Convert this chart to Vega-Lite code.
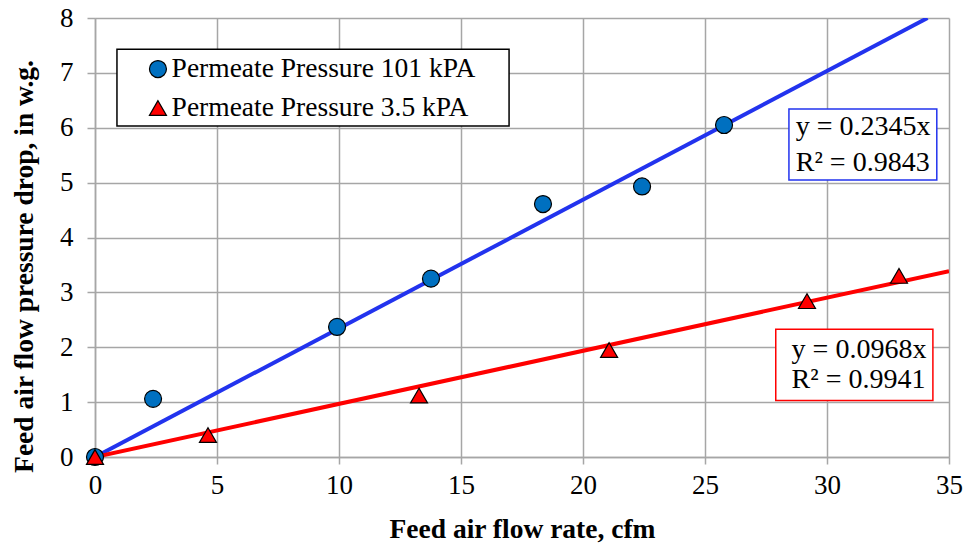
{
  "$schema": "https://vega.github.io/schema/vega-lite/v6.json",
  "width": 854,
  "height": 439,
  "autosize": {"type": "none"},
  "padding": {"left": 95, "top": 18, "right": 18, "bottom": 87},
  "background": "white",
  "config": {
    "view": {"stroke": null},
    "font": "Liberation Serif",
    "axis": {
      "labelFont": "Liberation Serif",
      "labelFontSize": 27,
      "labelColor": "black",
      "titleFont": "Liberation Serif",
      "titleFontSize": 27.5,
      "titleFontWeight": "bold",
      "titleColor": "black",
      "gridColor": "#A6A6A6",
      "gridWidth": 1.5,
      "gridOpacity": 1,
      "domainColor": "#A6A6A6",
      "domainWidth": 1.5,
      "tickColor": "#A6A6A6",
      "tickWidth": 1.5
    }
  },
  "datasets": {
    "points": [
      {"flow": 0, "drop": 0, "series": "Permeate Pressure 101 kPA"},
      {"flow": 2.38, "drop": 1.06, "series": "Permeate Pressure 101 kPA"},
      {"flow": 9.92, "drop": 2.37, "series": "Permeate Pressure 101 kPA"},
      {"flow": 13.77, "drop": 3.25, "series": "Permeate Pressure 101 kPA"},
      {"flow": 18.36, "drop": 4.61, "series": "Permeate Pressure 101 kPA"},
      {"flow": 22.42, "drop": 4.93, "series": "Permeate Pressure 101 kPA"},
      {"flow": 25.78, "drop": 6.05, "series": "Permeate Pressure 101 kPA"},
      {"flow": 0, "drop": 0, "series": "Permeate Pressure 3.5 kPA"},
      {"flow": 4.63, "drop": 0.40, "series": "Permeate Pressure 3.5 kPA"},
      {"flow": 13.28, "drop": 1.12, "series": "Permeate Pressure 3.5 kPA"},
      {"flow": 21.07, "drop": 1.95, "series": "Permeate Pressure 3.5 kPA"},
      {"flow": 29.18, "drop": 2.84, "series": "Permeate Pressure 3.5 kPA"},
      {"flow": 32.95, "drop": 3.30, "series": "Permeate Pressure 3.5 kPA"}
    ],
    "trend": [
      {"flow": 0, "drop": 0, "series": "Permeate Pressure 101 kPA"},
      {"flow": 34.12, "drop": 8.0, "series": "Permeate Pressure 101 kPA"},
      {"flow": 0, "drop": 0, "series": "Permeate Pressure 3.5 kPA"},
      {"flow": 35, "drop": 3.388, "series": "Permeate Pressure 3.5 kPA"}
    ],
    "one": [{"k": 1}]
  },
  "layer": [
    {
      "data": {"name": "points"},
      "mark": {"type": "point", "opacity": 0},
      "encoding": {
        "x": {
          "field": "flow", "type": "quantitative",
          "scale": {"domain": [0, 35], "nice": false, "zero": false},
          "axis": {
            "title": "Feed air flow rate, cfm",
            "values": [0, 5, 10, 15, 20, 25, 30, 35],
            "tickSize": 7,
            "labelPadding": 8,
            "labelFont": "Liberation Serif",
            "titleX": 427,
            "titleY": 80,
            "titleAlign": "center",
            "titleBaseline": "alphabetic",
            "labelFlush": false
          }
        },
        "y": {
          "field": "drop", "type": "quantitative",
          "scale": {"domain": [0, 8], "nice": false},
          "axis": {
            "title": "Feed air flow pressure drop, in w.g.",
            "values": [0, 0.5, 1, 1.5, 2, 2.5, 3, 3.5, 4, 4.5, 5, 5.5, 6, 6.5, 7, 7.5, 8],
            "labelExpr": "datum.value % 1 === 0 ? datum.label : ''",
            "tickSize": 8,
            "tickOpacity": {"condition": {"test": "datum.value % 1 !== 0", "value": 0}, "value": 1},
            "labelPadding": 14,
            "labelFont": "Liberation Serif",
            "titleX": -63,
            "titleY": 248,
            "titleAngle": -90,
            "titleAlign": "center",
            "titleBaseline": "alphabetic",
            "labelFlush": false
          }
        }
      }
    },
    {
      "data": {"name": "one"},
      "mark": {"type": "rect", "fill": "white", "stroke": "black", "strokeWidth": 1.5},
      "encoding": {
        "x": {"datum": 0.9, "type": "quantitative"},
        "x2": {"datum": 16.97},
        "y": {"datum": 7.43, "type": "quantitative"},
        "y2": {"datum": 6.03}
      }
    },
    {
      "data": {"name": "one"},
      "mark": {"type": "point", "shape": "circle", "filled": true, "fill": "#0070C0", "stroke": "black", "strokeWidth": 1.2, "size": 289, "opacity": 1},
      "encoding": {"x": {"datum": 2.58, "type": "quantitative"}, "y": {"datum": 7.07, "type": "quantitative"}}
    },
    {
      "data": {"name": "one"},
      "mark": {"type": "point", "shape": "triangle-up", "filled": true, "fill": "#FF0000", "stroke": "black", "strokeWidth": 1.2, "size": 289, "opacity": 1},
      "encoding": {"x": {"datum": 2.58, "type": "quantitative"}, "y": {"datum": 6.36, "type": "quantitative"}}
    },
    {
      "data": {"name": "one"},
      "mark": {"type": "text", "text": "Permeate Pressure 101 kPA", "align": "left", "baseline": "middle", "fontSize": 27.5, "font": "Liberation Serif", "color": "black"},
      "encoding": {"x": {"datum": 3.14, "type": "quantitative"}, "y": {"datum": 7.07, "type": "quantitative"}}
    },
    {
      "data": {"name": "one"},
      "mark": {"type": "text", "text": "Permeate Pressure 3.5 kPA", "align": "left", "baseline": "middle", "fontSize": 27.5, "font": "Liberation Serif", "color": "black"},
      "encoding": {"x": {"datum": 3.14, "type": "quantitative"}, "y": {"datum": 6.36, "type": "quantitative"}}
    },
    {
      "data": {"name": "one"},
      "mark": {"type": "rect", "fill": "white", "stroke": "#2233EE", "strokeWidth": 1.5},
      "encoding": {
        "x": {"datum": 28.44, "type": "quantitative"},
        "x2": {"datum": 34.5},
        "y": {"datum": 6.34, "type": "quantitative"},
        "y2": {"datum": 5.05}
      }
    },
    {
      "data": {"name": "one"},
      "mark": {"type": "rect", "fill": "white", "stroke": "#FF0000", "strokeWidth": 1.5},
      "encoding": {
        "x": {"datum": 27.9, "type": "quantitative"},
        "x2": {"datum": 34.34},
        "y": {"datum": 2.33, "type": "quantitative"},
        "y2": {"datum": 1.03}
      }
    },
    {
      "data": {"name": "one"},
      "mark": {"type": "text", "text": "y = 0.2345x", "align": "left", "baseline": "middle", "fontSize": 28, "font": "Liberation Serif", "color": "black"},
      "encoding": {"x": {"datum": 28.72, "type": "quantitative"}, "y": {"datum": 6.01, "type": "quantitative"}}
    },
    {
      "data": {"name": "one"},
      "mark": {"type": "text", "text": "R² = 0.9843", "align": "left", "baseline": "middle", "fontSize": 28, "font": "Liberation Serif", "color": "black"},
      "encoding": {"x": {"datum": 28.72, "type": "quantitative"}, "y": {"datum": 5.36, "type": "quantitative"}}
    },
    {
      "data": {"name": "one"},
      "mark": {"type": "text", "text": "y = 0.0968x", "align": "left", "baseline": "middle", "fontSize": 28, "font": "Liberation Serif", "color": "black"},
      "encoding": {"x": {"datum": 28.55, "type": "quantitative"}, "y": {"datum": 1.95, "type": "quantitative"}}
    },
    {
      "data": {"name": "one"},
      "mark": {"type": "text", "text": "R² = 0.9941", "align": "left", "baseline": "middle", "fontSize": 28, "font": "Liberation Serif", "color": "black"},
      "encoding": {"x": {"datum": 28.55, "type": "quantitative"}, "y": {"datum": 1.40, "type": "quantitative"}}
    },
    {
      "data": {"name": "trend"},
      "transform": [{"filter": "datum.series === 'Permeate Pressure 101 kPA'"}],
      "mark": {"type": "line", "strokeWidth": 4, "stroke": "#2233EE", "clip": true},
      "encoding": {
        "x": {"field": "flow", "type": "quantitative"},
        "y": {"field": "drop", "type": "quantitative"}
      }
    },
    {
      "data": {"name": "trend"},
      "transform": [{"filter": "datum.series === 'Permeate Pressure 3.5 kPA'"}],
      "mark": {"type": "line", "strokeWidth": 4, "stroke": "#FF0000", "clip": true},
      "encoding": {
        "x": {"field": "flow", "type": "quantitative"},
        "y": {"field": "drop", "type": "quantitative"}
      }
    },
    {
      "data": {"name": "points"},
      "mark": {"type": "point", "filled": true, "stroke": "black", "strokeWidth": 1.2, "size": 289, "opacity": 1},
      "encoding": {
        "x": {"field": "flow", "type": "quantitative"},
        "y": {"field": "drop", "type": "quantitative"},
        "fill": {
          "field": "series", "type": "nominal",
          "scale": {"domain": ["Permeate Pressure 101 kPA", "Permeate Pressure 3.5 kPA"], "range": ["#0070C0", "#FF0000"]},
          "legend": null
        },
        "shape": {
          "field": "series", "type": "nominal",
          "scale": {"domain": ["Permeate Pressure 101 kPA", "Permeate Pressure 3.5 kPA"], "range": ["circle", "triangle-up"]},
          "legend": null
        }
      }
    }
  ]
}
